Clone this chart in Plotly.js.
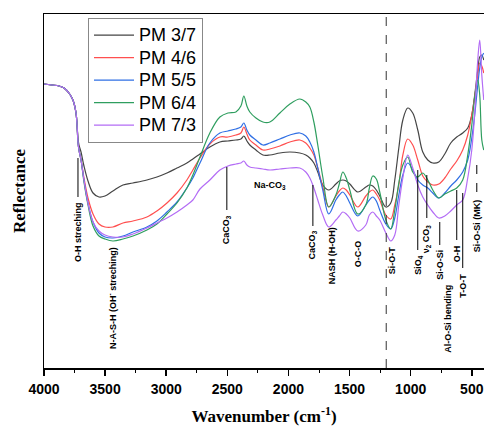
<!DOCTYPE html>
<html>
<head>
<meta charset="utf-8">
<script src="https://cdn.plot.ly/plotly-3.0.1.min.js"></script>
<style>html,body{margin:0;padding:0;background:#fff;}#chart{width:484px;height:426px;}</style>
</head>
<body>
<div id="chart"></div>
<script>
// Wavenumber grid (cm^-1)
const wavenumber = [4000,3935,3877,3836,3796,3771,3755,3738,3730,3722,3714,3697,3673,3640,3599,3550,3501,3436,3354,3272,3158,3076,2994,2912,2831,2782,2724,2643,2561,2495,2430,2389,2365,2340,2316,2266,2209,2152,2070,1988,1907,1858,1825,1792,1760,1719,1670,1612,1584,1555,1527,1498,1433,1367,1338,1310,1281,1253,1203,1163,1130,1097,1064,1024,983,942,901,860,819,770,721,672,623,574,533,500,476,451,435,418,402];

// Reflectance (arbitrary units)
const pm37 = [284,283,282,280,275,270,265,255,244,230,223,216,202,187,175,171,172,177,183,185,188,191,195,200,205,209,214,221,226,227,228,229,232,227,223,218,213,213,215,216,215,213,210,205,196,183,178,184,187,188,187,184,176,181,183,182,178,172,161,165,188,220,248,260,255,238,216,208,205,206,214,225,231,235,240,253,273,298,311,313,308];
const pm46 = [284,283,282,280,275,270,265,255,244,226,218,208,190,170,154,144,141,141,145,147,151,157,165,175,188,198,210,224,231,231,233,235,241,234,228,223,218,219,222,226,228,225,220,213,200,181,161,172,177,180,178,173,161,172,176,178,174,168,153,149,163,183,213,229,223,208,192,186,183,184,190,199,207,218,233,253,271,293,305,302,295];
const pm55 = [284,283,282,280,275,270,265,255,244,226,218,208,188,165,146,135,131,130,132,136,141,147,156,166,180,190,205,225,235,237,239,241,245,238,233,228,223,225,229,233,235,232,226,216,200,178,154,168,173,176,172,165,152,163,168,171,167,158,144,139,150,173,193,205,198,188,183,180,175,170,175,182,188,196,208,230,253,283,300,311,315];
const pm64 = [284,283,282,280,275,270,265,255,244,226,218,208,186,163,142,132,129,127,129,132,138,144,154,165,180,193,211,235,251,255,256,262,272,262,256,250,246,246,255,264,269,266,261,246,223,191,161,173,184,196,190,178,154,163,180,192,189,176,148,139,158,185,203,211,196,191,195,188,178,170,174,177,180,188,213,243,271,288,273,228,218];
const pm73 = [284,283,282,280,275,270,265,255,244,226,218,208,188,165,146,137,133,131,131,134,140,145,150,156,163,168,179,188,198,202,204,205,207,203,201,200,199,198,199,200,200,196,190,180,168,153,141,148,152,156,154,150,137,143,153,156,152,148,135,127,133,163,190,213,200,183,171,163,156,150,152,157,163,168,190,218,255,308,328,293,268];

const seriesNames = ['PM 3/7','PM 4/6','PM 5/5','PM 6/4','PM 7/3'];
const seriesColors = ['#454545','#ff4f4f','#2f6fe4','#2f9e5f','#b36cf5'];
const seriesValues = [pm37, pm46, pm55, pm64, pm73];

// Band labels: text, wavenumber, top of label, leader line from/to (same units)
const bandText = ['O-H streching','N-A-S-H (OH<sup>-</sup> streching)','CaCO<sub>3</sub>','CaCO<sub>3</sub>','NASH (H-OH)','O-C-O','Si-O-T','SiO<sub>4</sub>','ν<sub>2</sub> CO<sub>3</sub>','Si-O-Si','Al-O-Si bending','O-H','T-O-T','Si-O-Si (MK)'];
const bandWn   = [3722,3444,2504,1800,1645,1433,1154,942,868,762,697,623,574,459];
const bandTop  = [168,123,155,140,143,130,123,115,146,120,85,125,96,171];
const leadFrom = [210,null,201,183,null,null,null,198,193,146,null,178,175,203];
const leadTo   = [171,null,158,142,null,null,null,118,150,123,null,128,100,173];
const leadDash = ['solid',null,'solid','solid',null,null,null,'solid','solid','solid',null,'solid','solid','dash'];
const naLabel = {text:'Na-CO<sub>3</sub>', wn:2152, y:183};
const dashedWn = [1200];

const traces = seriesNames.map((n,i)=>({
  x: wavenumber, y: seriesValues[i],
  name: '<span style="font-size:18px">'+n+'</span>', type:'scatter', mode:'lines',
  line:{color:seriesColors[i], width:1.2, shape:'spline', smoothing:1}
}));

const annFont = {family:'Arial, Liberation Sans, sans-serif', size:9, color:'#000', weight:'bold'};
const annotations = bandText.map((t,i)=>({
  x: bandWn[i], y: bandTop[i], xref:'x', yref:'y', text:t, textangle:-90,
  xanchor:'center', yanchor:'top', showarrow:false, font:annFont
}));
annotations.push({x:naLabel.wn, y:naLabel.y, xref:'x', yref:'y', text:naLabel.text,
  showarrow:false, xanchor:'center', yanchor:'middle', font:annFont});

const shapes = [];
bandWn.forEach((w,i)=>{
  if(leadFrom[i]!==null){
    shapes.push({type:'line', xref:'x', yref:'y', x0:w, x1:w, y0:leadFrom[i], y1:leadTo[i],
      line:{color:'#000', width:1, dash:leadDash[i]}});
  }
});
dashedWn.forEach(w=>shapes.push({type:'line', xref:'x', yref:'paper', x0:w, x1:w, y0:0, y1:1,
  line:{color:'#333', width:1, dash:'dash'}}));

const layout = {
  width:484, height:426,
  margin:{l:44, r:0, t:14, b:58},
  paper_bgcolor:'#fff', plot_bgcolor:'#fff',
  showlegend:true,
  legend:{x:0.1, y:0.989, xanchor:'left', yanchor:'top', bgcolor:'#fff',
    bordercolor:'#888', borderwidth:1, itemwidth:40, tracegroupgap:0,
    font:{family:'Arial, Liberation Sans, sans-serif', size:15, color:'#000'}},
  xaxis:{range:[4000,400], tickvals:[4000,3500,3000,2500,2000,1500,1000,500],
    ticks:'outside', ticklen:6, tickwidth:1.5, tickcolor:'#000',
    minor:{tickvals:[3750,3250,2750,2250,1750,1250,750], ticks:'outside', ticklen:3, tickwidth:1, tickcolor:'#000'},
    showline:true, linecolor:'#000', linewidth:1.5, mirror:true,
    showgrid:false, zeroline:false, ticklabelstandoff:2,
    tickfont:{family:'Arial, Liberation Sans, sans-serif', size:14, color:'#000', weight:'bold'},
    title:{text:'Wavenumber (cm<sup>-1</sup>)', standoff:21,
      font:{family:'Times New Roman, Liberation Serif, serif', size:17, color:'#000', weight:'bold'}}
  },
  yaxis:{range:[0,354], showticklabels:false, ticks:'', showline:true, linecolor:'#000', linewidth:1.5,
    showgrid:false, zeroline:false,
    title:{text:'Reflectance', standoff:12,
      font:{family:'Times New Roman, Liberation Serif, serif', size:17, color:'#000', weight:'bold'}}
  },
  annotations: annotations,
  shapes: shapes
};

Plotly.newPlot('chart', traces, layout, {displayModeBar:false, staticPlot:true});
</script>
</body>
</html>
